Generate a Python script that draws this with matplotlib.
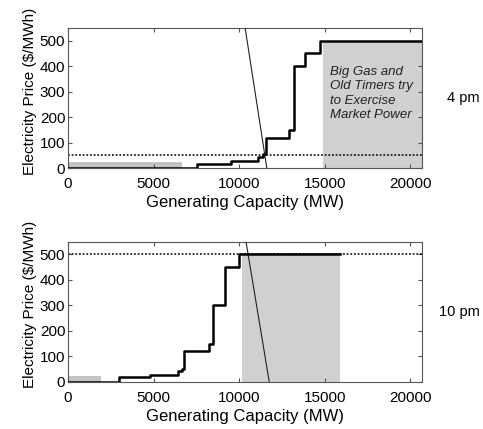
import matplotlib
matplotlib.use("Agg")
import matplotlib.pyplot as plt
import numpy as np

plt.rcParams['font.family'] = ['Liberation Sans', 'DejaVu Sans']

# ---- 4 pm data ----
pm4_step_x = [0, 7560, 9530, 11130, 11420, 11560, 12920, 13220, 13860, 14740, 20700]
pm4_step_y = [0, 17, 27, 42, 55, 120, 150, 400, 450, 500, 500]
pm4_demand_x = [11620, 10350]
pm4_demand_y = [0, 550]
pm4_price = 52
pm4_small_band = (0, 6650, 25)
pm4_big_band = (14900, 20700, 500)
pm4_note = "Big Gas and\nOld Timers try\nto Exercise\nMarket Power"

# ---- 10 pm data ----
pm10_step_x = [0, 2950, 4810, 6420, 6650, 6800, 8210, 8500, 9200, 10000, 15920]
pm10_step_y = [0, 18, 27, 42, 50, 120, 150, 300, 450, 500, 500]
pm10_demand_x = [11760, 10400]
pm10_demand_y = [0, 550]
pm10_price = 500
pm10_small_band = (0, 1950, 24)
pm10_big_band = (10150, 15920, 505)

x_ticks = [0, 5000, 10000, 15000, 20000]
y_ticks = [0, 100, 200, 300, 400, 500]

fig = plt.figure(figsize=(4.83, 4.29), dpi=100)
ax1 = fig.add_axes([0.141, 0.608, 0.733, 0.327])
ax2 = fig.add_axes([0.141, 0.110, 0.733, 0.327])

def draw(ax, sx, sy, dx, dy, price, small, big, label):
    ax.fill_between([small[0], small[1]], 0, small[2], color='#c4c4c4', lw=0, zorder=1)
    ax.fill_between([big[0], big[1]], 0, big[2], color='#d0d0d0', lw=0, zorder=1)
    ax.axhline(price, color='black', ls=(0, (1.2, 1.2)), lw=1.1, zorder=2)
    ax.step(sx, sy, where='post', color='black', lw=1.8, zorder=4)
    ax.plot(dx, dy, color='#222222', lw=0.8, zorder=3)
    ax.set_xlim(0, 20700)
    ax.set_ylim(0, 550)
    ax.set_xticks(x_ticks)
    ax.set_yticks(y_ticks)
    ax.tick_params(direction='in', top=True, right=True, labelsize=11,
                   length=3, width=0.8, color='#555555', pad=2)
    ax.tick_params(axis='x', pad=6.5)
    for s in ax.spines.values():
        s.set_color('#555555')
        s.set_linewidth(0.8)
    ax.set_xlabel('Generating Capacity (MW)', fontsize=12, labelpad=3)
    ax.set_ylabel('Electricity Price (\\$/MWh)', fontsize=11)
    ax.yaxis.set_label_coords(-0.087, 0.55)
    bb = ax.get_position()
    fig.text(480 / 483, (bb.y0 + bb.y1) / 2, label, fontsize=10.5,
             va='center', ha='right')

draw(ax1, pm4_step_x, pm4_step_y, pm4_demand_x, pm4_demand_y, pm4_price,
     pm4_small_band, pm4_big_band, '4 pm')
draw(ax2, pm10_step_x, pm10_step_y, pm10_demand_x, pm10_demand_y, pm10_price,
     pm10_small_band, pm10_big_band, '10 pm')

ax1.text(15300, 400, pm4_note, fontsize=9.5, style='italic', va='top',
         ha='left', linespacing=1.25, color='#222222', zorder=5)

fig.savefig('out.png', dpi=100)
